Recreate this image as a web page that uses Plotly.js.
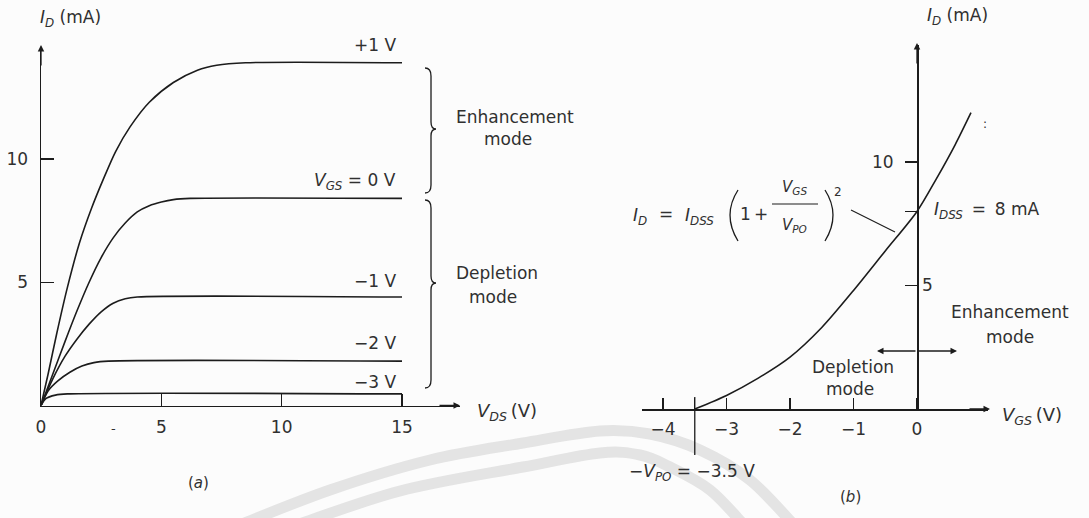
<!DOCTYPE html>
<html>
<head>
<meta charset="utf-8">
<script src="https://cdn.plot.ly/plotly-3.0.1.min.js"></script>
<style>
  html, body { margin: 0; padding: 0; background: #fcfcfc; }
  #chart { width: 1089px; height: 518px; }
</style>
</head>
<body>
<div id="chart"></div>
<script>
// ---- (a) drain characteristics: I_D (mA) versus V_DS (V) for each gate voltage ----
const gateLabels = ['+1 V', 'V_GS = 0 V', '-1 V', '-2 V', '-3 V'];

const vdsPlus1 = [0, 0.3, 0.65, 1.1, 1.6, 2.1, 2.6, 3.1, 3.7, 4.5, 5.5, 6.5, 7.3, 8.5, 15];
const idPlus1  = [0, 1.3, 2.9, 4.8, 6.6, 8.0, 9.2, 10.3, 11.3, 12.3, 13.1, 13.6, 13.8, 13.9, 13.9];

const vdsZero = [0, 0.5, 1.0, 1.5, 2.0, 2.5, 3.0, 3.5, 4.0, 4.5, 5.0, 5.5, 6.2, 15];
const idZero  = [0, 1.3, 2.6, 3.85, 5.0, 6.0, 6.8, 7.4, 7.85, 8.1, 8.25, 8.35, 8.4, 8.4];

const vdsMinus1 = [0, 0.5, 1.0, 1.5, 2.0, 2.5, 3.0, 3.5, 4.0, 15];
const idMinus1  = [0, 1.1, 2.0, 2.7, 3.3, 3.8, 4.15, 4.33, 4.4, 4.4];

const vdsMinus2 = [0, 0.3, 0.7, 1.2, 1.7, 2.2, 2.8, 15];
const idMinus2  = [0, 0.6, 1.0, 1.35, 1.6, 1.74, 1.8, 1.8];

const vdsMinus3 = [0, 0.2, 0.6, 1.1, 15];
const idMinus3  = [0, 0.28, 0.42, 0.47, 0.47];

const drainTickVals = [0, 5, 10, 15];
const drainTickText = ['0', '5', '10', '15'];
const currentTickVals = [5, 10];
const currentTickText = ['5', '10'];

// ---- (b) transfer characteristic: I_D (mA) versus V_GS (V) ----
const vgsTransfer = [-3.5, -3.0, -2.5, -2.0, -1.5, -1.0, -0.5, 0.0, 0.3, 0.6, 0.85];
const idTransfer  = [0, 0.55, 1.25, 2.1, 3.3, 4.8, 6.4, 8.0, 9.3, 10.7, 12.0];
const idss = 8;        // mA, drain current at V_GS = 0
const pinchOff = -3.5; // V, -V_PO

const gateTickVals = [-4, -3.5, -3, -2, -1, 0];
const gateTickText = ['\u22124', '', '\u22123', '\u22122', '\u22121', '0'];
const transferTickVals = [8, 10];
const transferTickText = ['', '10'];

// ---- page geometry helpers (pixel -> paper fraction) ----
const W = 1089, H = 518;
const px = v => v / W;
const py = v => 1 - v / H;
const P = (X, Y) => px(X).toFixed(5) + ',' + py(Y).toFixed(5);

const ink = '#1c1c1c';
const FONT = { family: 'DejaVu Sans, Liberation Sans, sans-serif', size: 17, color: '#303030' };
const sized = s => Object.assign({}, FONT, { size: s });

function curve(x, y, xa, ya) {
  return {
    type: 'scatter', mode: 'lines', x: x, y: y, xaxis: xa, yaxis: ya,
    line: { color: ink, width: 1.6, shape: 'spline', smoothing: 0.8 },
    hoverinfo: 'skip', showlegend: false
  };
}

const traces = [
  curve(vdsPlus1, idPlus1, 'x', 'y'),
  curve(vdsZero, idZero, 'x', 'y'),
  curve(vdsMinus1, idMinus1, 'x', 'y'),
  curve(vdsMinus2, idMinus2, 'x', 'y'),
  curve(vdsMinus3, idMinus3, 'x', 'y'),
  curve(vgsTransfer, idTransfer, 'x2', 'y2'),
  // carrier for the right-hand tick set of the transfer plot
  { type: 'scatter', mode: 'markers', x: [0], y: [idss], xaxis: 'x2', yaxis: 'y3',
    marker: { size: 1, opacity: 0 }, hoverinfo: 'skip', showlegend: false }
];

function txt(x, y, text, opt) {
  return Object.assign({
    xref: 'paper', yref: 'paper', x: px(x), y: py(y), text: text,
    showarrow: false, xanchor: 'center', yanchor: 'middle', font: FONT
  }, opt || {});
}

function arrowTip(x, y, dx, dy) {
  return {
    xref: 'paper', yref: 'paper', x: px(x), y: py(y), ax: dx, ay: dy,
    axref: 'pixel', ayref: 'pixel', text: '', showarrow: true,
    arrowhead: 2, arrowsize: 1, arrowwidth: 1.3, arrowcolor: ink
  };
}

function brace(x, yTop, yBot, yTip) {
  const a = x, b = x + 6, c = x + 11;
  return 'M' + P(a, yTop) + ' Q' + P(b, yTop) + ' ' + P(b, yTop + 8) +
         ' L' + P(b, yTip - 7) + ' Q' + P(b, yTip) + ' ' + P(c, yTip) +
         ' Q' + P(b, yTip) + ' ' + P(b, yTip + 7) +
         ' L' + P(b, yBot - 8) + ' Q' + P(b, yBot) + ' ' + P(a, yBot);
}

// smooth path through pixel points (Catmull-Rom as cubic Beziers)
function smoothPath(pts) {
  let d = 'M' + P(pts[0][0], pts[0][1]);
  for (let i = 0; i < pts.length - 1; i++) {
    const p0 = pts[Math.max(0, i - 1)], p1 = pts[i], p2 = pts[i + 1], p3 = pts[Math.min(pts.length - 1, i + 2)];
    const c1 = [p1[0] + (p2[0] - p0[0]) / 6, p1[1] + (p2[1] - p0[1]) / 6];
    const c2 = [p2[0] - (p3[0] - p1[0]) / 6, p2[1] - (p3[1] - p1[1]) / 6];
    d += ' C' + P(c1[0], c1[1]) + ' ' + P(c2[0], c2[1]) + ' ' + P(p2[0], p2[1]);
  }
  return d;
}

const gateLabelHtml = {
  '+1 V': '+1 V',
  'V_GS = 0 V': '<i>V</i><sub><i>GS</i></sub> = 0 V',
  '-1 V': '\u22121 V',
  '-2 V': '\u22122 V',
  '-3 V': '\u22123 V'
};
const gateLabelY = [45, 182, 281, 343, 382];

const annotations = [
  // left panel
  txt(38, 18, '<i>I</i><sub><i>D</i></sub> (mA)', { xanchor: 'left' }),
  ...gateLabels.map((g, i) => txt(398, gateLabelY[i], gateLabelHtml[g], { xanchor: 'right' })),
  txt(515, 117, 'Enhancement'),
  txt(508, 139, 'mode'),
  txt(497, 273, 'Depletion'),
  txt(493, 297, 'mode'),
  txt(475, 412, '<i>V</i><sub><i>DS</i></sub>\u2009(V)', { xanchor: 'left', font: sized(18) }),
  txt(113, 428, '-', { font: sized(13) }),
  txt(198, 483, '(<i>a</i>)', { font: sized(15) }),
  arrowTip(460, 405.5, -22, 0),
  arrowTip(41, 45, 0, 22),

  // right panel
  txt(957, 16, '<i>I</i><sub><i>D</i></sub> (mA)'),
  txt(932, 211, '<i>I</i><sub><i>DSS</i></sub>\u2009 = \u20098 mA', { xanchor: 'left' }),
  txt(640, 216, '<i>I</i><sub><i>D</i></sub>'),
  txt(666, 214, '='),
  txt(699, 216, '<i>I</i><sub><i>DSS</i></sub>'),
  txt(745, 214, '1'),
  txt(761, 214, '+'),
  txt(794, 187, '<i>V</i><sub><i>GS</i></sub>', { font: sized(15) }),
  txt(794, 225, '<i>V</i><sub><i>PO</i></sub>', { font: sized(15) }),
  txt(838, 192, '2', { font: sized(12) }),
  txt(985, 124, ':', { font: sized(12) }),
  txt(1010, 312, 'Enhancement'),
  txt(1010, 337, 'mode'),
  txt(853, 367, 'Depletion'),
  txt(850, 389, 'mode'),
  txt(1000, 416, '<i>V</i><sub><i>GS</i></sub>\u2009(V)', { xanchor: 'left', font: sized(18) }),
  txt(627, 472, '\u2212<i>V</i><sub><i>PO</i></sub> = \u22123.5 V', { xanchor: 'left' }),
  txt(850, 497, '(<i>b</i>)', { font: sized(15) }),
  arrowTip(990, 409, -22, 0),
  arrowTip(917, 43, 0, 22),
  arrowTip(877, 351, 40, 0),
  arrowTip(957, 351, -40, 0)
];

const faint = { color: '#e4e4e4', width: 11 };

const shapes = [
  // faint circular emblem bands behind the lower part of the page
  { type: 'path', xref: 'paper', yref: 'paper', layer: 'below', line: faint,
    path: smoothPath([[232, 528], [330, 490], [430, 460], [523, 443], [600, 431], [650, 434], [700, 450], [750, 480], [795, 526]]) },
  { type: 'path', xref: 'paper', yref: 'paper', layer: 'below', line: faint,
    path: smoothPath([[288, 528], [400, 491], [523, 467], [600, 453], [640, 455], [670, 467], [710, 490], [745, 526]]) },

  { type: 'path', xref: 'paper', yref: 'paper', path: brace(425, 68, 193, 129),
    line: { color: ink, width: 1.3 } },
  { type: 'path', xref: 'paper', yref: 'paper', path: brace(425, 200, 388, 283),
    line: { color: ink, width: 1.3 } },
  // large parentheses and fraction bar of the square-law expression
  { type: 'path', xref: 'paper', yref: 'paper', line: { color: ink, width: 1.3 },
    path: 'M' + P(738, 190) + ' Q' + P(722, 215) + ' ' + P(738, 241) },
  { type: 'path', xref: 'paper', yref: 'paper', line: { color: ink, width: 1.3 },
    path: 'M' + P(825, 190) + ' Q' + P(841, 215) + ' ' + P(825, 241) },
  { type: 'line', xref: 'paper', yref: 'paper', x0: px(772), x1: px(818), y0: py(204), y1: py(204),
    line: { color: ink, width: 1.2 } },
  // leader from the expression to the curve
  { type: 'line', xref: 'paper', yref: 'paper', x0: px(851), x1: px(895), y0: py(210), y1: py(232),
    line: { color: ink, width: 1.2 } },
  // pinch-off marker through the V_GS axis
  { type: 'line', xref: 'x2', yref: 'paper', x0: pinchOff, x1: pinchOff, y0: py(397), y1: py(455),
    line: { color: ink, width: 1.3 } }
];

const axisCommon = {
  showgrid: false, zeroline: false, showline: true, linecolor: ink, linewidth: 1.5,
  tickcolor: ink, tickwidth: 1.4, tickfont: FONT, fixedrange: true
};

const layout = {
  width: W, height: H,
  margin: { l: 0, r: 0, t: 0, b: 0 },
  paper_bgcolor: '#fcfcfc', plot_bgcolor: 'rgba(0,0,0,0)',
  showlegend: false,
  xaxis: Object.assign({}, axisCommon, {
    domain: [px(41), px(460)], range: [0, 17.41], anchor: 'y',
    tickmode: 'array', tickvals: drainTickVals, ticktext: drainTickText,
    ticks: 'inside', ticklen: 12, ticklabelstandoff: 6
  }),
  yaxis: Object.assign({}, axisCommon, {
    domain: [py(405.5), py(47)], range: [0, 14.54], anchor: 'x',
    tickmode: 'array', tickvals: currentTickVals, ticktext: currentTickText,
    ticks: 'inside', ticklen: 13, ticklabelstandoff: 8
  }),
  xaxis2: Object.assign({}, axisCommon, {
    domain: [px(642), px(988)], range: [-4.331, 1.118], anchor: 'y2',
    tickmode: 'array', tickvals: gateTickVals, ticktext: gateTickText,
    ticks: 'inside', ticklen: 11, ticklabelstandoff: 4
  }),
  yaxis2: Object.assign({}, axisCommon, {
    domain: [py(409), py(45)], range: [0, 14.74], anchor: 'free', position: px(917),
    side: 'left', tickmode: 'array', tickvals: transferTickVals, ticktext: transferTickText,
    ticks: 'outside', ticklen: 12, ticklabelstandoff: 8
  }),
  yaxis3: Object.assign({}, axisCommon, {
    domain: [py(409), py(45)], range: [0, 14.74], anchor: 'free', position: px(917),
    overlaying: 'y2', side: 'right', showline: false,
    tickmode: 'array', tickvals: [5], ticktext: ['5'],
    ticks: 'inside', ticklen: 12, ticklabelstandoff: 4
  }),
  annotations: annotations,
  shapes: shapes
};

Plotly.newPlot('chart', traces, layout, { staticPlot: true, displayModeBar: false });
</script>
</body>
</html>
